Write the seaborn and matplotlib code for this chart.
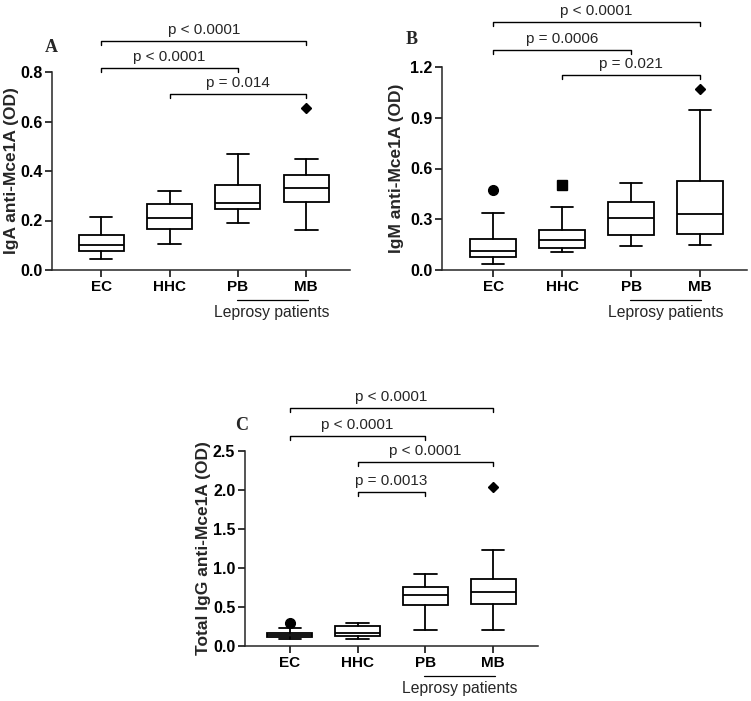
import matplotlib
matplotlib.use("Agg")
import matplotlib.pyplot as plt
import matplotlib.transforms as mtransforms
import seaborn as sns

# Groups and outlier symbols (GraphPad style: one symbol per group)
groups = ["EC", "HHC", "PB", "MB"]
group_markers = ["o", "s", "^", "D"]
group_msize = [7, 6.5, 6, 5]

# Panel A - IgA anti-Mce1A
iga_low = [0.045, 0.105, 0.19, 0.16]
iga_q1 = [0.075, 0.165, 0.245, 0.275]
iga_med = [0.10, 0.21, 0.27, 0.33]
iga_q3 = [0.14, 0.265, 0.345, 0.385]
iga_high = [0.215, 0.32, 0.47, 0.45]
iga_out = [[], [], [], [0.655]]
iga_pairs = [(0, 3), (0, 2), (1, 3)]
iga_pheights = [0.925, 0.816, 0.711]
iga_ptexts = ["p < 0.0001", "p < 0.0001", "p = 0.014"]

# Panel B - IgM anti-Mce1A
igm_low = [0.035, 0.105, 0.14, 0.15]
igm_q1 = [0.075, 0.13, 0.205, 0.21]
igm_med = [0.11, 0.18, 0.305, 0.33]
igm_q3 = [0.185, 0.235, 0.40, 0.525]
igm_high = [0.335, 0.37, 0.515, 0.945]
igm_out = [[0.475], [0.50], [], [1.07]]
igm_pairs = [(0, 3), (0, 2), (1, 3)]
igm_pheights = [1.466, 1.30, 1.153]
igm_ptexts = ["p < 0.0001", "p = 0.0006", "p = 0.021"]

# Panel C - Total IgG anti-Mce1A
igg_low = [0.09, 0.09, 0.20, 0.21]
igg_q1 = [0.12, 0.13, 0.53, 0.54]
igg_med = [0.135, 0.17, 0.655, 0.695]
igg_q3 = [0.165, 0.26, 0.76, 0.865]
igg_high = [0.23, 0.29, 0.92, 1.225]
igg_out = [[0.30], [], [], [2.04]]
igg_pairs = [(0, 3), (0, 2), (1, 3), (1, 2)]
igg_pheights = [3.05, 2.69, 2.36, 1.97]
igg_ptexts = ["p < 0.0001", "p < 0.0001", "p < 0.0001", "p = 0.0013"]

sns.set_theme(style="ticks")
plt.rcParams["font.family"] = ["Liberation Sans", "DejaVu Sans"]
plt.rcParams["axes.linewidth"] = 1.1

W, H = 751, 701
fig = plt.figure(figsize=(W / 100, H / 100), dpi=100)


def px_axes(left, right, bottom, top):
    """Axes from pixel edges (top-left origin)."""
    return fig.add_axes([left / W, 1 - bottom / H, (right - left) / W, (bottom - top) / H])


def draw_panel(ax, low, q1, med, q3, high, outs, pairs, pheights, ptexts,
               yticks, ytop, xlim, ylabel, ylabel_x, letter, letter_xy):
    stats = []
    for i, g in enumerate(groups):
        stats.append(dict(label=g, whislo=low[i], q1=q1[i], med=med[i],
                          q3=q3[i], whishi=high[i], fliers=[]))
    ax.bxp(stats, positions=range(len(groups)), widths=0.66, capwidths=0.33,
           patch_artist=True, showfliers=False,
           boxprops=dict(facecolor="white", edgecolor="black", linewidth=1.3),
           medianprops=dict(color="black", linewidth=1.3),
           whiskerprops=dict(color="black", linewidth=1.3),
           capprops=dict(color="black", linewidth=1.3))
    for i, vals in enumerate(outs):
        if vals:
            ax.plot([i] * len(vals), vals, linestyle="none",
                    marker=group_markers[i], markersize=group_msize[i],
                    color="black")

    ax.set_xlim(*xlim)
    ax.set_ylim(0, ytop)
    ax.set_yticks(yticks)
    ax.set_yticklabels([f"{t:.1f}" for t in yticks], fontweight="bold", fontsize=11.5)
    ax.set_xticks(range(len(groups)))
    ax.set_xticklabels(groups, fontweight="bold", fontsize=11)
    ax.tick_params(axis="both", length=5, width=1.1, pad=2, colors="black")
    ax.spines["left"].set_bounds(0, yticks[-1])
    sns.despine(ax=ax)

    # significance brackets
    ax_h = ax.get_position().height * H
    drop = ytop * 4 / ax_h
    for (i, j), y, t in zip(pairs, pheights, ptexts):
        ax.plot([i, i, j, j], [y - drop, y, y, y - drop], color="black",
                linewidth=1.0, clip_on=False)
        ax.text((i + j) / 2, y + drop * 1.0, t, ha="center", va="bottom",
                fontsize=11, clip_on=False)

    # leprosy patients underline
    trans = ax.get_xaxis_transform() + mtransforms.ScaledTranslation(0, -0.30, fig.dpi_scale_trans)
    ax.plot([1.98, 3.02], [0, 0], color="black", linewidth=0.9,
            transform=trans, clip_on=False)
    trans_t = ax.get_xaxis_transform() + mtransforms.ScaledTranslation(0, -0.35, fig.dpi_scale_trans)
    ax.text(2.5, 0, "Leprosy patients", ha="center", va="top", fontsize=11.3,
            transform=trans_t)

    # y label centred on the drawn spine
    y0 = ax.transData.transform((0, 0))[1]
    y1 = ax.transData.transform((0, yticks[-1]))[1]
    fig.text(ylabel_x / W, (y0 + y1) / 2 / H, ylabel, rotation=90, ha="center",
             va="center", fontweight="bold", fontsize=12.5)

    fig.text(letter_xy[0] / W, 1 - letter_xy[1] / H, letter, ha="center",
             va="center", fontweight="bold", fontsize=13,
             family=["Liberation Serif", "DejaVu Serif"])


axA = px_axes(52, 350, 270, 15)
draw_panel(axA, iga_low, iga_q1, iga_med, iga_q3, iga_high, iga_out,
           iga_pairs, iga_pheights, iga_ptexts,
           [0.0, 0.2, 0.4, 0.6, 0.8], 0.8 * 255 / 198, (-0.72, 3.64),
           "IgA anti-Mce1A (OD)", 12, "A", (51, 48))

axB = px_axes(442, 747, 270, 5)
draw_panel(axB, igm_low, igm_q1, igm_med, igm_q3, igm_high, igm_out,
           igm_pairs, igm_pheights, igm_ptexts,
           [0.0, 0.3, 0.6, 0.9, 1.2], 1.2 * 265 / 203, (-0.74, 3.68),
           "IgM anti-Mce1A (OD)", 396, "B", (412, 39))

axC = px_axes(245, 538, 646, 385)
draw_panel(axC, igg_low, igg_q1, igg_med, igg_q3, igg_high, igg_out,
           igg_pairs, igg_pheights, igg_ptexts,
           [0.0, 0.5, 1.0, 1.5, 2.0, 2.5], 2.5 * 261 / 195, (-0.66, 3.66),
           "Total IgG anti-Mce1A (OD)", 203, "C", (242, 426))

fig.savefig("out.png", dpi=100, facecolor="white")
